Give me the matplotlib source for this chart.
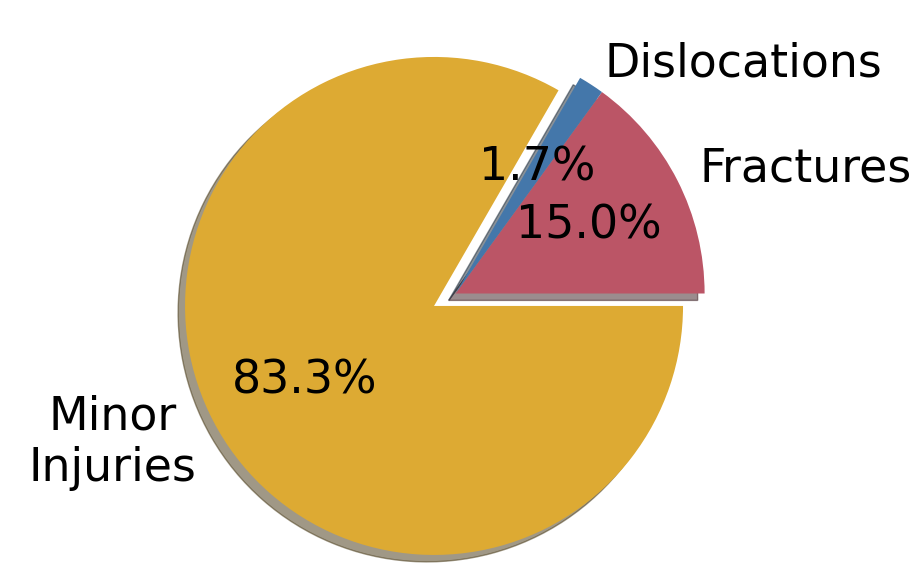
import matplotlib
matplotlib.use("Agg")
import matplotlib.pyplot as plt

labels = ["Fractures", "Dislocations", "Minor\nInjuries"]
counts = [9, 1, 50]
colors = ["#BB5566", "#4477AA", "#DDAA33"]
explode = [0.0, 0.0, 0.1]

fig = plt.figure(figsize=(9.22, 5.68), dpi=100)
ax = fig.add_axes([0, 0, 1, 1])
wedges, texts, autotexts = ax.pie(counts, labels=labels, colors=colors, explode=explode,
                                  autopct="%1.1f%%", shadow=True, startangle=0,
                                  textprops={"fontsize": 33})
for t in texts:
    t.set_multialignment("center")
ax.set_aspect("auto")
ax.set_xlim(-455.6 / 249, (922 - 455.6) / 249)
ax.set_ylim(-(568 - 293.5) / 249, 293.5 / 249)
ax.axis("off")
fig.savefig("out.png", dpi=100)
